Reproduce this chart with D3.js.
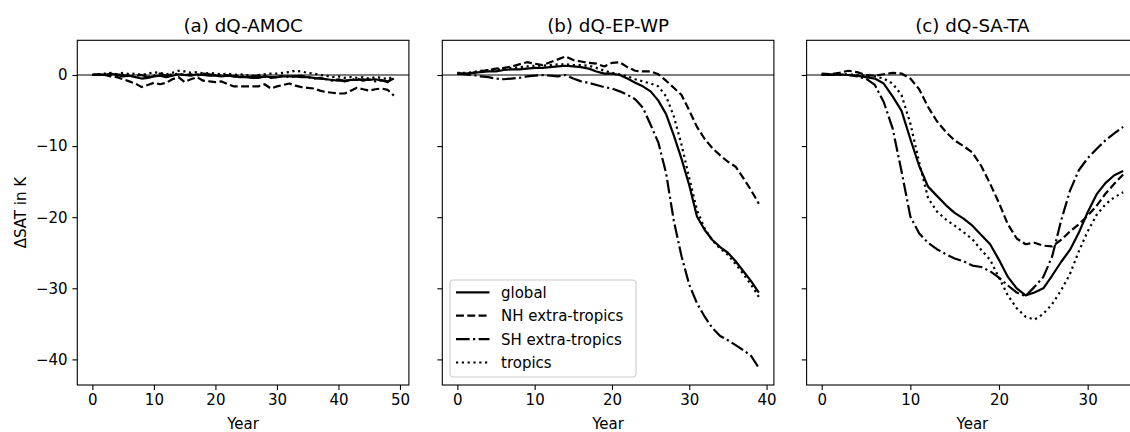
<!DOCTYPE html>
<html>
<head>
<meta charset="utf-8">
<script src="https://cdn.jsdelivr.net/npm/d3@7"></script>
<style>
  body { margin: 0; background: #fff; }
  svg { display: block; font-family: "DejaVu Sans", sans-serif; }
</style>
</head>
<body>
<svg id="chart" width="1130" height="432"></svg>
<script>
// panel titles and series names
const titles = ["(a) dQ-AMOC", "(b) dQ-EP-WP", "(c) dQ-SA-TA"]
const seriesNames = ["global", "NH extra-tropics", "SH extra-tropics", "tropics"]
const yTicks = [0, -10, -20, -30, -40]
const xTicksA = [0, 10, 20, 30, 40, 50]
const xTicksB = [0, 10, 20, 30, 40]
const xTicksC = [0, 10, 20, 30]

// (a) dQ-AMOC, years 0..49
const globalA = [0.0, 0.1, 0.0, 0.2, 0.0, -0.2, -0.1, -0.3, -0.5, -0.4, -0.2, -0.1, -0.3, -0.1, 0.1, 0.0, -0.1, 0.1, 0.0, -0.1, -0.1, -0.2, -0.1, -0.2, -0.3, -0.3, -0.4, -0.4, -0.2, -0.3, -0.3, -0.2, -0.2, -0.2, -0.3, -0.3, -0.4, -0.5, -0.6, -0.7, -0.8, -0.8, -0.7, -0.7, -0.6, -0.7, -0.6, -0.8, -0.9, -0.5]
const nhA = [0.0, 0.1, 0.0, -0.2, -0.3, -0.6, -0.9, -1.2, -1.7, -1.4, -1.1, -1.3, -1.1, -0.6, -0.3, -1.0, -0.6, -0.3, -0.8, -0.9, -1.0, -0.9, -1.3, -1.6, -1.6, -1.6, -1.6, -1.6, -1.3, -1.9, -1.6, -1.4, -1.2, -1.5, -1.7, -1.8, -1.9, -2.2, -2.4, -2.5, -2.6, -2.6, -2.2, -1.8, -2.0, -2.2, -2.0, -1.9, -2.1, -2.9]
const shA = [0.1, 0.0, 0.1, 0.3, 0.1, 0.0, -0.2, -0.1, 0.0, -0.3, -0.1, 0.2, -0.1, 0.1, 0.2, 0.0, 0.1, -0.1, 0.2, 0.1, 0.0, -0.1, 0.0, -0.2, -0.1, -0.3, -0.2, -0.1, -0.2, -0.4, -0.3, -0.1, -0.3, -0.2, -0.1, -0.3, -0.5, -0.4, -0.6, -0.8, -0.6, -0.9, -0.7, -0.5, -0.8, -0.6, -0.9, -0.7, -1.0, -0.3]
const tropA = [0.0, 0.1, 0.2, 0.0, 0.1, 0.3, 0.1, 0.2, 0.0, 0.2, 0.4, 0.3, 0.1, 0.3, 0.6, 0.5, 0.3, 0.4, 0.2, 0.3, 0.2, 0.1, 0.2, 0.0, 0.1, 0.0, -0.1, 0.0, 0.1, 0.2, 0.2, 0.3, 0.4, 0.6, 0.5, 0.3, 0.2, 0.0, -0.1, -0.3, -0.2, -0.4, -0.3, -0.4, -0.3, -0.5, -0.3, -0.4, -0.6, -0.2]

// (b) dQ-EP-WP, years 0..39
const globalB = [0.2, 0.2, 0.3, 0.4, 0.5, 0.5, 0.7, 0.8, 0.8, 0.9, 1.0, 1.0, 1.1, 1.2, 1.3, 1.2, 1.1, 0.9, 0.5, 0.2, 0.2, 0.0, -0.5, -1.1, -1.6, -2.3, -3.6, -5.5, -8.5, -11.8, -15.5, -19.9, -21.8, -23.2, -24.2, -25.0, -26.2, -27.6, -29.0, -30.6]
const nhB = [0.2, 0.2, 0.3, 0.5, 0.7, 0.9, 1.0, 1.2, 1.5, 1.8, 1.6, 1.4, 1.8, 2.2, 2.6, 2.1, 1.9, 1.7, 1.6, 1.2, 1.7, 1.8, 1.1, 0.6, 0.5, 0.5, 0.1, -0.8, -1.8, -2.8, -5.0, -7.3, -9.0, -10.3, -11.3, -12.2, -12.9, -14.5, -16.2, -18.1]
const shB = [0.2, 0.1, 0.0, -0.2, -0.3, -0.5, -0.6, -0.5, -0.4, -0.2, -0.1, 0.0, -0.1, -0.2, 0.0, -0.5, -0.9, -1.1, -1.4, -1.7, -1.9, -2.3, -2.8, -3.4, -4.6, -7.0, -9.5, -13.8, -20.5, -25.5, -29.5, -32.1, -34.0, -35.6, -36.7, -37.3, -38.0, -38.7, -39.5, -41.2]
const tropB = [0.3, 0.3, 0.4, 0.6, 0.7, 0.7, 0.9, 1.0, 1.1, 1.2, 1.3, 1.3, 1.4, 1.5, 1.5, 1.4, 1.4, 1.3, 1.0, 0.6, 0.3, 0.1, -0.2, -0.6, -0.9, -1.2, -1.6, -3.0, -5.8, -9.8, -14.5, -19.0, -21.6, -23.3, -24.4, -25.3, -26.6, -28.0, -29.5, -31.2]

// (c) dQ-SA-TA, years 0..34
const globalC = [0.1, 0.0, 0.1, 0.0, -0.1, -0.3, -0.5, -1.2, -3.0, -5.0, -9.0, -12.8, -15.7, -17.0, -18.3, -19.4, -20.2, -21.2, -22.5, -23.8, -26.0, -28.4, -30.0, -31.0, -30.6, -30.0, -28.2, -26.3, -24.6, -22.2, -19.3, -16.8, -15.2, -14.1, -13.5]
const nhC = [0.2, 0.1, 0.3, 0.6, 0.4, 0.0, -0.1, 0.1, 0.3, 0.2, -0.5, -2.0, -4.5, -6.5, -8.0, -9.2, -10.0, -10.9, -12.8, -15.3, -18.0, -21.0, -23.0, -23.8, -23.6, -24.0, -24.1, -23.2, -22.0, -21.0, -19.8, -18.4, -16.7, -15.3, -14.0]
const shC = [0.0, 0.1, 0.0, 0.0, -0.2, -0.5, -1.4, -3.8, -7.5, -13.5, -19.9, -22.3, -23.6, -24.5, -25.2, -25.8, -26.2, -26.8, -27.0, -27.6, -28.5, -29.6, -30.6, -31.1, -29.8, -28.4, -25.5, -20.5, -16.3, -13.4, -11.7, -10.4, -9.2, -8.2, -7.3]
const tropC = [0.1, 0.0, 0.1, 0.1, 0.0, -0.1, -0.2, -0.5, -1.2, -2.8, -6.8, -12.3, -17.3, -19.2, -20.3, -21.2, -22.1, -23.1, -24.6, -26.0, -28.5, -31.0, -32.8, -34.0, -34.4, -33.6, -32.2, -30.3, -28.0, -24.8, -22.0, -19.7, -18.2, -17.2, -16.5]

const panelData = [
  {title: titles[0], series: [globalA, nhA, shA, tropA], ticks: xTicksA},
  {title: titles[1], series: [globalB, nhB, shB, tropB], ticks: xTicksB},
  {title: titles[2], series: [globalC, nhC, shC, tropC], ticks: xTicksC}
]

const svg = d3.select("#chart")
const plotTop = 40.3, plotBottom = 385
const panelLeft = [77.3, 442.3, 806.6]
const panelWidth = 331.6
const lw = 2.2
// matplotlib-ish dash patterns, scaled by line width
const dashes = [null, "7.9,3.4", "13.6,3.4,2.2,3.4", "2.2,3.6"]
const fontSize = 15

const yScale = d3.scaleLinear().domain([-43.6, 4.88]).range([plotBottom, plotTop])

panelData.forEach((p, i) => {
  const n = p.series[0].length - 1
  const pad = n * 0.05
  const x0 = panelLeft[i]
  const x = d3.scaleLinear().domain([-pad, n + pad]).range([x0, x0 + panelWidth])
  const g = svg.append("g")

  // zero line
  g.append("line")
    .attr("x1", x0).attr("x2", x0 + panelWidth)
    .attr("y1", yScale(0)).attr("y2", yScale(0))
    .attr("stroke", "#000").attr("stroke-width", 1.1)

  const line = d3.line().x((d, k) => x(k)).y(d => yScale(d))
  p.series.forEach((s, k) => {
    g.append("path")
      .attr("d", line(s))
      .attr("fill", "none")
      .attr("stroke", "#000")
      .attr("stroke-width", lw)
      .attr("stroke-dasharray", dashes[k])
      .attr("stroke-linejoin", "round")
  })

  // axes
  const xAxis = d3.axisBottom(x).tickValues(p.ticks).tickSize(4.9).tickPadding(4.3).tickFormat(d3.format("d"))
  const gx = g.append("g").attr("transform", `translate(0,${plotBottom})`).call(xAxis)
  const yAxis = d3.axisLeft(yScale).tickValues(yTicks).tickSize(4.9).tickPadding(4.8)
    .tickFormat(d => i == 0 ? (d < 0 ? "\u2212" + Math.abs(d) : d) : "")
  const gy = g.append("g").attr("transform", `translate(${x0},0)`).call(yAxis)
  ;[gx, gy].forEach(a => {
    a.select(".domain").remove()
    a.selectAll(".tick line").attr("stroke", "#000").attr("stroke-width", 1.1)
    a.selectAll(".tick text").attr("fill", "#000").style("font-size", fontSize + "px")
      .style("font-family", "DejaVu Sans")
  })

  // frame
  g.append("rect")
    .attr("x", x0).attr("y", plotTop)
    .attr("width", panelWidth).attr("height", plotBottom - plotTop)
    .attr("fill", "none").attr("stroke", "#000").attr("stroke-width", 1.1)

  g.append("text")
    .attr("x", x0 + panelWidth / 2).attr("y", 32)
    .attr("text-anchor", "middle")
    .style("font-size", "18.3px")
    .text(p.title)

  g.append("text")
    .attr("x", x0 + panelWidth / 2).attr("y", 429)
    .attr("text-anchor", "middle")
    .style("font-size", fontSize + "px")
    .text("Year")

  // legend only in panel b
  if (i == 1) {
    const lg = g.append("g")
    lg.append("rect")
      .attr("x", 450).attr("y", 280).attr("width", 186).attr("height", 97)
      .attr("rx", 3.5)
      .attr("fill", "#fff").attr("fill-opacity", 0.8)
      .attr("stroke", "#cccccc").attr("stroke-width", 1.1)
    seriesNames.forEach((name, k) => {
      const cy = 292.3 + k * 23.4
      lg.append("line")
        .attr("x1", 456).attr("x2", 489.5)
        .attr("y1", cy).attr("y2", cy)
        .attr("stroke", "#000").attr("stroke-width", lw)
        .attr("stroke-dasharray", dashes[k])
      lg.append("text")
        .attr("x", 501).attr("y", cy + 5.4)
        .style("font-size", fontSize + "px")
        .text(name)
    })
  }
})

svg.append("text")
  .attr("transform", "rotate(-90)")
  .attr("x", -(plotTop + plotBottom) / 2).attr("y", 26)
  .attr("text-anchor", "middle")
  .style("font-size", fontSize + "px")
  .text("ΔSAT in K")
</script>
</body>
</html>
